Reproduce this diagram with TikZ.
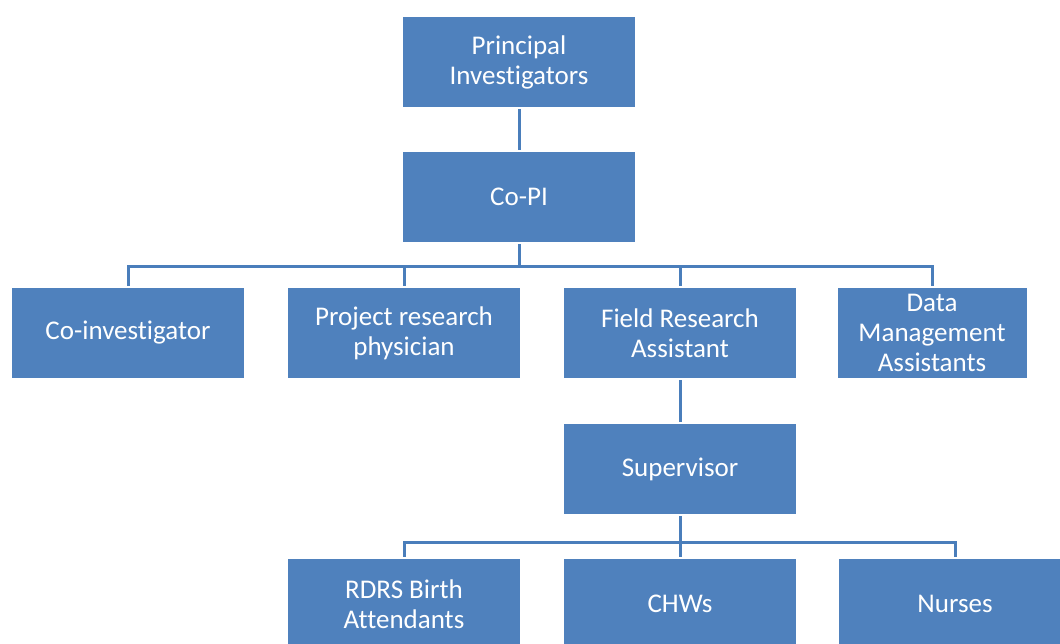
\documentclass[tikz,border=0pt]{standalone}
\usepackage{fontspec}
\setmainfont{Carlito}[Ligatures=NoCommon]
\usepackage{tikz}
\usetikzlibrary{positioning}
\definecolor{boxblue}{HTML}{4F81BD}
\definecolor{lineblue}{HTML}{4A7EBB}

\begin{document}
\begin{tikzpicture}[x=1pt,y=-1pt,
  role/.style={fill=boxblue,text=white,minimum width=232pt,minimum height=90pt,
    align=center,inner sep=0pt,font=\fontsize{27}{30}\selectfont},
  link/.style={lineblue,line width=3pt}]
\useasboundingbox (0,0) rectangle (1060,643);
\clip (0,0) rectangle (1060,643);

%top
\node[role] (pi) at (519,62) {Principal\\Investigators};
\node[role] (copi) at (519,197) {Co-PI};

%second row
\node[role] (coinv) at (128,333) {Co-investigator};
\node[role] (phys) at (404,333) {Project research\\physician};
\node[role] (fra) at (680,333) {Field Research\\Assistant};
\node[role,minimum width=189pt] (dma) at (932,333) {Data\\Management\\Assistants};

%third row
\node[role] (sup) at (680,469) {Supervisor};

%bottom row
\node[role] (rdrs) at (404,604) {RDRS Birth\\Attendants};
\node[role] (chw) at (680,604) {CHWs};
\node[role] (nurse) at (955,604) {Nurses};

%connectors
\coordinate (busa) at (519,266);
\coordinate (busb) at (680,542);

\draw[link] ([yshift=-2pt]pi.south) -- ([yshift=2pt]copi.north);
\draw[link] ([yshift=-2pt]fra.south) -- ([yshift=2pt]sup.north);

\draw[link] ([yshift=-2pt]copi.south) -- (busa);
\draw[link] (busa) -| ([yshift=2pt]coinv.north);
\draw[link] (busa) -| ([yshift=2pt]phys.north);
\draw[link] (busa) -| ([yshift=2pt]fra.north);
\draw[link] (busa) -| ([yshift=2pt]dma.north);

\draw[link] ([yshift=-2pt]sup.south) -- (busb);
\draw[link] (busb) -| ([yshift=2pt]rdrs.north);
\draw[link] (busb) -| ([yshift=2pt]chw.north);
\draw[link] (busb) -| ([yshift=2pt]nurse.north);

\end{tikzpicture}
\end{document}
